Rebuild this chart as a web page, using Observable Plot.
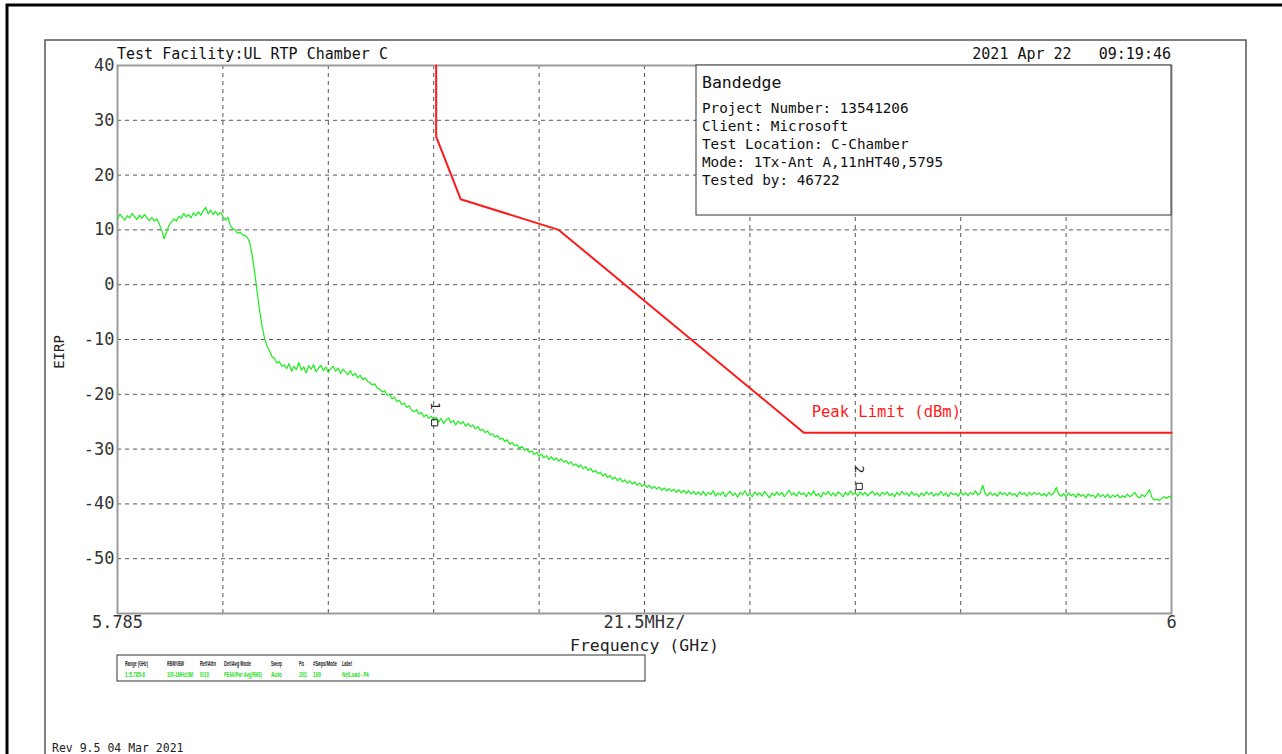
<!DOCTYPE html>
<html>
<head>
<meta charset="utf-8">
<script src="https://cdn.jsdelivr.net/npm/d3@7"></script>
<script src="https://cdn.jsdelivr.net/npm/@observablehq/plot@0.6"></script>
<style>
  html, body { margin: 0; padding: 0; background: #fff; }
  #chart { width: 1282px; height: 754px; overflow: hidden; }
</style>
</head>
<body>
<div id="chart"></div>
<script>
// ---------- data ----------
const freqStart = 5.785;          // GHz, first listed sweep point
const freqStep = 0.0005;          // GHz between listed points
const traceDb = [
  12.0, 12.9, 12.3, 11.8, 12.6, 12.2, 13.0, 12.4, 11.9, 12.7, 12.1, 12.8, 12.2, 11.7,
  12.3, 11.6, 12.0, 11.1,
  10.0, 8.4, 9.6,
  10.8, 11.4, 12.0, 11.6,
  12.5, 12.1, 13.0, 12.4, 12.8, 12.2, 13.1, 12.6, 13.3, 12.7, 13.5, 14.1, 12.9, 13.6, 12.8, 13.4, 12.7, 13.2, 12.5,
  11.8, 12.3, 10.9, 10.2, 10.0, 9.4, 9.6, 9.1, 9.0, 8.6,
  7.6, 5.2, 2.1, -1.4, -4.8, -7.6, -9.8,
  -11.2, -12.0, -13.1, -13.4, -14.3, -14.0, -14.9, -14.6,
  -15.3, -14.4, -15.8, -14.9, -15.5, -14.2, -15.6, -15.0, -16.1, -14.8, -15.4, -14.6,
  -15.9, -15.2, -14.7, -15.7, -15.0, -16.0, -15.3, -14.9, -15.8, -15.2, -16.2, -15.4,
  -15.9, -16.4, -15.7, -16.6, -16.2, -17.0, -16.5, -17.3, -17.0, -17.6,
  -17.9, -18.3, -18.1, -18.9, -19.0, -19.6, -19.3, -20.2, -20.0, -20.8, -20.5, -21.3, -21.1,
  -21.9, -21.6, -22.4, -22.1, -22.9, -23.2, -22.8, -23.6, -23.3, -24.1, -23.7, -24.4, -24.0,
  -24.6, -24.2, -25.1, -24.4, -25.3, -24.7, -24.3, -25.2, -24.8, -25.6, -24.9, -25.4, -25.0, -25.8, -25.3,
  -25.9, -25.6, -26.3, -25.9, -26.6, -26.4, -27.0, -26.7, -27.4, -27.2, -27.8, -27.5, -28.2,
  -28.0, -28.6, -28.3, -29.1, -28.8, -29.4, -29.2, -29.9, -29.5, -30.2, -30.0, -30.6, -30.3,
  -31.0, -30.6, -31.3, -30.9, -31.6, -31.2, -31.9, -31.4, -32.0, -31.6, -32.2,
  -31.8, -32.4, -32.1, -32.7, -32.3, -33.0, -32.7, -33.3, -32.9, -33.6, -33.2, -33.9, -33.5, -34.2, -33.9, -34.5,
  -34.2, -34.9, -34.5, -35.2, -34.8, -35.5, -35.1, -35.8, -35.3, -36.0, -35.6, -36.2, -35.8, -36.4, -36.0, -36.6,
  -36.2, -36.8, -36.4, -37.0, -36.6, -37.2, -36.8, -37.3, -36.9, -37.5, -37.1, -37.6, -37.2,
  -37.7, -37.3, -37.9, -37.4, -38.0, -37.5, -38.1, -37.6, -38.2, -37.7, -38.3, -37.8,
  -38.4, -37.7, -38.5, -37.9, -38.3, -37.6, -38.6, -38.0, -38.4, -37.8,
  -38.7, -38.1, -37.7, -38.5, -38.0, -38.8, -37.9, -38.3, -37.6, -38.5,
  -38.1, -38.7, -37.8, -38.4, -38.0, -38.6, -37.7, -38.3, -38.9, -38.0,
  -38.5, -37.8, -38.4, -37.9, -38.7, -38.1, -37.5, -38.4, -38.0, -38.6,
  -37.8, -38.3, -38.0, -38.7, -37.9, -38.4, -37.6, -38.5, -38.1, -38.8,
  -37.9, -38.3, -37.7, -38.5, -38.0, -38.6, -37.8, -38.2, -38.7, -37.9,
  -38.4, -37.6, -38.3, -38.0, -38.6, -37.8, -38.4, -37.9, -38.5, -38.1,
  -37.7, -38.4, -38.0, -38.6, -37.9, -38.3, -37.8, -38.5, -38.1, -38.7,
  -37.9, -38.4, -37.7, -38.3, -38.0, -38.6, -37.8, -38.4, -38.1, -38.7,
  -38.0, -38.5, -37.8, -38.3, -37.9, -38.6, -38.1, -38.4, -37.7, -38.5,
  -38.0, -38.7, -37.9, -38.3, -38.1, -38.6, -37.8, -38.4, -38.0, -38.5,
  -37.9, -38.3, -37.6, -38.4, -38.0, -36.6, -38.2, -38.5, -37.9, -38.4,
  -38.1, -38.6, -37.8, -38.3, -38.0, -38.5, -37.9, -38.4, -38.1, -38.7,
  -37.8, -38.3, -38.0, -38.6, -37.9, -38.4, -37.9, -38.3, -38.0, -38.5,
  -38.1, -38.6, -37.9, -38.4, -38.0, -37.0, -38.2, -38.6, -38.1, -38.7,
  -38.0, -38.5, -38.2, -38.8, -38.1, -38.6, -38.3, -38.9, -38.2, -38.6,
  -38.4, -38.9, -38.1, -38.7, -38.3, -38.8, -38.2, -38.9, -38.4, -38.7,
  -38.3, -38.9, -38.5, -38.8, -38.2, -38.7, -38.4, -37.9, -38.6, -38.9,
  -38.3, -38.7, -38.1, -37.4, -38.8, -39.3, -39.1, -39.4, -39.0, -38.7,
  -39.0, -38.6, -38.9
];

const limitFreq = [5.85, 5.85, 5.855, 5.875, 5.925, 6.0];
const limitDb   = [40, 27, 15.6, 10, -27, -27];

const markerFreq  = [5.8497, 5.9363];
const markerDb    = [-25.2, -36.8];
const markerLabel = ["1", "2"];

const yTicks = [40, 30, 20, 10, 0, -10, -20, -30, -40, -50];
const yGrid  = [30, 20, 10, 0, -10, -20, -30, -40, -50];
const xGrid  = [5.8065, 5.828, 5.8495, 5.871, 5.8925, 5.914, 5.9355, 5.957, 5.9785];
const xTickFreq  = [5.785, 5.8925, 6.0];
const xTickLabel = ["5.785", "21.5MHz/", "6"];

const infoTitle = "Bandedge";
const infoLines = [
  "Project Number: 13541206",
  "Client: Microsoft",
  "Test Location: C-Chamber",
  "Mode: 1Tx-Ant A,11nHT40,5795",
  "Tested by: 46722"
];
const tableHeaders = ["Range (GHz)", "RBW/VBW", "Ref/Attn", "Det/Avg Mode", "Sweep", "Pts", "#Swps/Mode", "Label"];
const tableValues  = ["1:5.785-6", "100-1MHz/3M", "0/10", "PEAK/Pwr Avg(RMS)", "Auto", "2001", "100", "NetLoad - Pk"];

// ---------- build tables ----------
const trace = traceDb.map((v, i) => ({f: +(freqStart + i * freqStep).toFixed(5), v}));
const limit = limitFreq.map((f, i) => ({f, v: limitDb[i]}));
const markers = markerFreq.map((f, i) => ({f, v: markerDb[i], label: markerLabel[i]}));
const xTicks = xTickFreq.map((f, i) => ({f, label: xTickLabel[i]}));

const MONO = "'DejaVu Sans Mono', 'Liberation Mono', monospace";

const chart = Plot.plot({
  width: 1282,
  height: 754,
  marginLeft: 117,
  marginRight: 111,
  marginTop: 65,
  marginBottom: 141,
  style: {background: "white", overflow: "visible", fontFamily: MONO},
  x: {domain: [5.785, 6.0], axis: null},
  y: {domain: [-60, 40], axis: null},
  marks: [
    Plot.ruleX(xGrid, {stroke: "#555", strokeWidth: 1, strokeDasharray: "4,4"}),
    Plot.ruleY(yGrid, {stroke: "#555", strokeWidth: 1, strokeDasharray: "4,4"}),
    Plot.frame({stroke: "#9a9a9a", strokeWidth: 2}),
    Plot.line(limit, {x: "f", y: "v", stroke: "#ff1a1a", strokeWidth: 2}),
    Plot.line(trace, {x: "f", y: "v", stroke: "#1aee1a", strokeWidth: 1.2}),
    Plot.dot(markers, {x: "f", y: "v", symbol: "square", r: 3.5, stroke: "#222", strokeWidth: 1, fill: "none"}),
    Plot.text(markers, {x: "f", y: "v", text: "label", rotate: 90, dy: -17, fontSize: 13, fill: "#222", fontFamily: MONO}),
    Plot.text(yTicks, {y: d => d, text: d => String(d), frameAnchor: "left", textAnchor: "end", dx: -3, fontSize: 17, fill: "#333", fontFamily: MONO}),
    Plot.text(xTicks, {x: "f", text: "label", frameAnchor: "bottom", lineAnchor: "middle", dy: 9, fontSize: 17, fill: "#333", fontFamily: MONO}),
    Plot.text(["Frequency (GHz)"], {frameAnchor: "bottom", lineAnchor: "middle", dy: 32, fontSize: 16.5, fill: "#222", fontFamily: MONO}),
    Plot.text(["Peak Limit (dBm)"], {x: 5.9266, y: -23.3, textAnchor: "start", fontSize: 15.5, fill: "#ff1a1a", fontFamily: MONO})
  ]
});

document.getElementById("chart").appendChild(chart);

// ---------- page decorations ----------
const svg = d3.select(chart);
const txt = (parent, x, y, s, size, fill, anchor = "start", family = MONO) =>
  parent.append("text").attr("x", x).attr("y", y).attr("text-anchor", anchor)
    .attr("font-family", family).attr("font-size", size).attr("fill", fill).text(s);

svg.append("path").attr("d", "M7,760 V5 H1290").attr("fill", "none").attr("stroke", "#000").attr("stroke-width", 3);
svg.append("path").attr("d", "M45,760 V40 H1246 V760").attr("fill", "none").attr("stroke", "#555").attr("stroke-width", 1.5);

txt(svg, 117, 59, "Test Facility:UL RTP Chamber C", 15, "#111");
txt(svg, 1171, 59, "2021 Apr 22   09:19:46", 15, "#111", "end").style("white-space", "pre");

svg.append("text").attr("transform", "translate(64,352) rotate(-90)").attr("text-anchor", "middle")
  .attr("font-family", MONO).attr("font-size", 14).attr("fill", "#222").text("EIRP");

// info box
svg.append("rect").attr("x", 696).attr("y", 65).attr("width", 475).attr("height", 150)
  .attr("fill", "#fff").attr("stroke", "#333").attr("stroke-width", 1);
txt(svg, 702, 88, infoTitle, 16.5, "#111");
infoLines.forEach((t, i) => txt(svg, 702, 113 + i * 18, t, 14.3, "#111"));

// settings table
svg.append("rect").attr("x", 117).attr("y", 655).attr("width", 528).attr("height", 26)
  .attr("fill", "#fff").attr("stroke", "#333").attr("stroke-width", 1);
const colX = [125, 167, 200, 224, 271, 299, 313, 342];
const hdrW = [23, 17, 16, 27, 11, 5, 24, 10];
const valW = [20, 26, 9, 38, 11, 8, 8, 27];
const SANS = "'Liberation Sans', 'DejaVu Sans', sans-serif";
const hdrRow = svg.append("g").attr("transform", "translate(0,666) scale(1,1.5)");
const valRow = svg.append("g").attr("transform", "translate(0,677) scale(1,1.5)");
tableHeaders.forEach((t, i) => {
  txt(hdrRow, colX[i], 0, t, 4.5, "#222", "start", SANS).attr("font-weight", "bold")
    .attr("textLength", hdrW[i]).attr("lengthAdjust", "spacingAndGlyphs");
});
tableValues.forEach((t, i) => {
  txt(valRow, colX[i], 0, t, 4.5, "#22dd22", "start", SANS).attr("font-weight", "bold")
    .attr("textLength", valW[i]).attr("lengthAdjust", "spacingAndGlyphs");
});

txt(svg, 52, 752, "Rev 9.5 04 Mar 2021", 11.5, "#222");
</script>
</body>
</html>
